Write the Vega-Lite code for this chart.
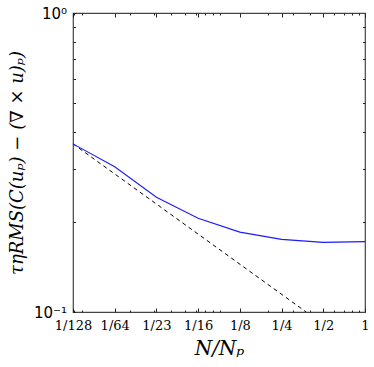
{
  "$schema": "https://vega.github.io/schema/vega-lite/v6.json",
  "width": 292,
  "height": 299,
  "autosize": "none",
  "padding": {"left": 73, "top": 13, "right": 9, "bottom": 55},
  "background": "white",
  "config": {
    "view": {"stroke": "#444", "strokeWidth": 1.2},
    "axis": {"grid": false, "domain": false, "tickColor": "#222", "tickWidth": 1, "labelColor": "black", "titleColor": "black"}
  },
  "datasets": {
    "blue": [
      {"r": 0.0078125, "v": 0.365},
      {"r": 0.015625, "v": 0.306},
      {"r": 0.03125, "v": 0.242},
      {"r": 0.0625, "v": 0.206},
      {"r": 0.125, "v": 0.185},
      {"r": 0.25, "v": 0.175},
      {"r": 0.5, "v": 0.171},
      {"r": 1, "v": 0.172}
    ],
    "ref": [
      {"r": 0.0078125, "v": 0.365},
      {"r": 0.376, "v": 0.1}
    ]
  },
  "layer": [
    {
      "data": {"name": "ref"},
      "mark": {"type": "line", "color": "black", "strokeWidth": 1, "strokeDash": [4, 3.5], "clip": true},
      "encoding": {
        "x": {"field": "r", "type": "quantitative",
          "scale": {"type": "log", "domain": [0.0078125, 1], "nice": false},
          "axis": {
            "orient": "bottom",
            "values": [0.0078125, 0.008, 0.009, 0.015625, 0.02, 0.03, 0.03125, 0.04, 0.05, 0.06, 0.0625, 0.07, 0.08, 0.09, 0.125, 0.2, 0.25, 0.3, 0.4, 0.5, 0.6, 0.7, 0.8, 0.9, 1],
            "labelExpr": "datum.value==0.0078125?'1/128':datum.value==0.015625?'1/64':datum.value==0.03125?'1/23':datum.value==0.0625?'1/16':datum.value==0.125?'1/8':datum.value==0.25?'1/4':datum.value==0.5?'1/2':datum.value==1?'1':''",
            "tickSize": {"condition": {"test": "indexof([0.0078125,0.015625,0.03125,0.0625,0.125,0.25,0.5,1], datum.value) >= 0", "value": -4}, "value": -2},
            "labelFont": "DejaVu Serif",
            "labelFontSize": 13,
            "labelPadding": 11,
            "labelFlush": false,
            "labelOverlap": false,
            "title": "N/Nₚ",
            "titleFont": "DejaVu Serif",
            "titleFontStyle": "italic",
            "titleFontWeight": "normal",
            "titleFontSize": 20,
            "titlePadding": 4
          }
        },
        "y": {"field": "v", "type": "quantitative",
          "scale": {"type": "log", "domain": [0.1, 1], "nice": false},
          "axis": {
            "orient": "left",
            "values": [0.1, 0.2, 0.3, 0.4, 0.5, 0.6, 0.7, 0.8, 0.9, 1],
            "labelExpr": "datum.value==1?'10⁰':datum.value==0.1?'10⁻¹':''",
            "tickSize": -2.5,
            "labelFont": "DejaVu Sans",
            "labelFontSize": 15,
            "labelPadding": 9,
            "labelFlush": false,
            "labelOverlap": false,
            "title": "τηRMS(C(uₚ) − (∇ × u)ₚ)",
            "titleFont": "DejaVu Serif",
            "titleFontStyle": "italic",
            "titleFontWeight": "normal",
            "titleFontSize": 18,
            "titlePadding": 7
          }
        }
      }
    },
    {
      "data": {"name": "blue"},
      "mark": {"type": "line", "color": "#1a1aff", "strokeWidth": 1.1},
      "encoding": {
        "x": {"field": "r", "type": "quantitative",
          "axis": {
            "orient": "top",
            "values": [0.0078125, 0.008, 0.009, 0.015625, 0.02, 0.03, 0.03125, 0.04, 0.05, 0.06, 0.0625, 0.07, 0.08, 0.09, 0.125, 0.2, 0.25, 0.3, 0.4, 0.5, 0.6, 0.7, 0.8, 0.9, 1],
            "labels": false,
            "tickSize": {"condition": {"test": "indexof([0.0078125,0.015625,0.03125,0.0625,0.125,0.25,0.5,1], datum.value) >= 0", "value": -4}, "value": -2},
            "title": null
          }
        },
        "y": {"field": "v", "type": "quantitative",
          "axis": {
            "orient": "right",
            "values": [0.2, 0.3, 0.4, 0.5, 0.6, 0.7, 0.8, 0.9],
            "labels": false,
            "tickSize": -2.5,
            "title": null
          }
        }
      }
    }
  ],
  "resolve": {"axis": {"x": "independent", "y": "independent"}}
}
